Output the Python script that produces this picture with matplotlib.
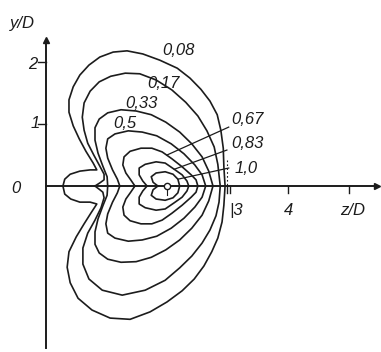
import matplotlib
matplotlib.use('Agg')
import matplotlib.pyplot as plt

# -------------------------------------------------------------------------------------------------------------------- #
# Data (z/D and y/D units)
# -------------------------------------------------------------------------------------------------------------------- #

levels = ['0,08', '0,17', '0,33', '0,5', '0,67', '0,83', '1,0']

# 0.08 - outer contour with the small balloon on the axis
z_008 = [0.28, 0.31, 0.40, 0.56, 0.73, 0.84, 0.78, 0.66, 0.55, 0.45, 0.38, 0.38, 0.45, 0.56, 0.71,
         0.89, 1.11, 1.34, 1.60, 1.88, 2.17, 2.38, 2.56, 2.71, 2.83, 2.89, 2.93, 2.94, 2.96,
         2.94, 2.91, 2.84, 2.74, 2.61, 2.45, 2.25, 2.00, 1.72, 1.39, 1.06, 0.76, 0.53, 0.40, 0.35,
         0.38, 0.50, 0.63, 0.74, 0.84, 0.73, 0.56, 0.41, 0.31, 0.28]
y_008 = [0.00, 0.11, 0.19, 0.24, 0.26, 0.26, 0.37, 0.56, 0.76, 0.97, 1.19, 1.39, 1.60, 1.79, 1.95,
         2.08, 2.16, 2.18, 2.13, 2.03, 1.90, 1.74, 1.56, 1.37, 1.15, 0.90, 0.61, 0.31, 0.00,
         -0.31, -0.58, -0.84, -1.06, -1.29, -1.50, -1.69, -1.87, -2.03, -2.15, -2.13, -2.00, -1.81, -1.56, -1.31,
         -1.06, -0.82, -0.61, -0.44, -0.29, -0.26, -0.26, -0.21, -0.13, 0.00]

# 0.17 - with the narrow tongue on the axis
z_017 = [0.81, 0.89, 0.96, 0.96, 0.89, 0.79, 0.69, 0.63, 0.60, 0.63, 0.73, 0.88, 1.07, 1.31, 1.55,
         1.82, 2.08, 2.31, 2.51, 2.66, 2.78, 2.84, 2.88,
         2.86, 2.81, 2.71, 2.58, 2.41, 2.21, 1.97, 1.64, 1.26, 0.93, 0.71, 0.61, 0.61, 0.69, 0.81,
         0.91, 0.96, 0.94, 0.89, 0.81]
y_017 = [0.00, 0.05, 0.10, 0.19, 0.32, 0.50, 0.69, 0.90, 1.11, 1.34, 1.53, 1.68, 1.77, 1.82, 1.81,
         1.71, 1.55, 1.35, 1.13, 0.89, 0.63, 0.35, 0.00,
         -0.26, -0.48, -0.71, -0.92, -1.13, -1.32, -1.52, -1.68, -1.76, -1.68, -1.50, -1.26, -1.00, -0.76, -0.55,
         -0.35, -0.19, -0.10, -0.06, 0.00]

z_033 = [1.02, 1.01, 0.94, 0.86, 0.81, 0.81, 0.88, 1.02, 1.24, 1.49, 1.74, 1.98, 2.21, 2.41, 2.58, 2.69, 2.76,
         2.69, 2.58, 2.41, 2.21, 1.98, 1.74, 1.49, 1.24, 1.02, 0.88, 0.81, 0.81, 0.86, 0.94, 1.01, 1.02]
y_033 = [0.00, 0.15, 0.32, 0.53, 0.74, 0.94, 1.08, 1.18, 1.23, 1.21, 1.15, 1.03, 0.87, 0.68, 0.47, 0.24, 0.00,
         -0.24, -0.47, -0.68, -0.87, -1.03, -1.15, -1.22, -1.23, -1.18, -1.08, -0.94, -0.74, -0.53, -0.32, -0.15, 0.00]

z_050 = [1.22, 1.18, 1.10, 1.02, 0.99, 1.02, 1.14, 1.36, 1.59, 1.83, 2.07, 2.28, 2.46, 2.58, 2.64,
         2.58, 2.46, 2.28, 2.07, 1.83, 1.59, 1.36, 1.14, 1.02, 0.99, 1.02, 1.10, 1.18, 1.22]
y_050 = [0.00, 0.11, 0.26, 0.45, 0.61, 0.76, 0.84, 0.89, 0.87, 0.81, 0.68, 0.52, 0.34, 0.18, 0.00,
         -0.18, -0.34, -0.52, -0.68, -0.81, -0.87, -0.89, -0.84, -0.76, -0.61, -0.45, -0.26, -0.11, 0.00]

z_067 = [1.47, 1.40, 1.32, 1.27, 1.29, 1.39, 1.57, 1.75, 1.92, 2.08, 2.25, 2.40, 2.48, 2.51,
         2.48, 2.40, 2.25, 2.08, 1.92, 1.75, 1.57, 1.39, 1.29, 1.27, 1.32, 1.40, 1.47]
y_067 = [0.00, 0.10, 0.21, 0.34, 0.47, 0.56, 0.61, 0.61, 0.55, 0.44, 0.31, 0.18, 0.10, 0.00,
         -0.10, -0.18, -0.31, -0.44, -0.55, -0.61, -0.61, -0.56, -0.47, -0.34, -0.21, -0.10, 0.00]

z_083 = [1.67, 1.60, 1.54, 1.54, 1.64, 1.82, 1.97, 2.12, 2.25, 2.33, 2.36,
         2.33, 2.25, 2.12, 1.97, 1.82, 1.64, 1.54, 1.54, 1.60, 1.67]
y_083 = [0.00, 0.08, 0.18, 0.29, 0.35, 0.39, 0.37, 0.27, 0.18, 0.08, 0.00,
         -0.08, -0.18, -0.27, -0.37, -0.39, -0.35, -0.29, -0.18, -0.08, 0.00]

z_100 = [1.85, 1.77, 1.74, 1.82, 1.97, 2.10, 2.18, 2.21, 2.18, 2.10, 1.97, 1.82, 1.74, 1.77, 1.85]
y_100 = [0.00, 0.06, 0.15, 0.21, 0.23, 0.19, 0.11, 0.00, -0.11, -0.19, -0.23, -0.21, -0.15, -0.06, 0.00]

# source position
source_z, source_y = 2.0, 0.0

# axis ticks
z_ticks = [3, 4, 5]
y_ticks = [1, 2]

# -------------------------------------------------------------------------------------------------------------------- #
# Plot
# -------------------------------------------------------------------------------------------------------------------- #

ink = '#1c1c1c'
plt.rcParams['font.family'] = ['Liberation Sans', 'DejaVu Sans']
txt = dict(color=ink, fontsize=12, fontstyle='italic')

fig = plt.figure(figsize=(3.81, 3.52), dpi=100)
ax = fig.add_axes([0, 0, 1, 1])
ax.set_xlim(-0.76, 5.537)
ax.set_ylim(-2.677, 3.0)
ax.axis('off')

contours = [(z_008, y_008), (z_017, y_017), (z_033, y_033), (z_050, y_050),
            (z_067, y_067), (z_083, y_083), (z_100, y_100)]
for zc, yc in contours:
    ax.plot(zc, yc, color=ink, lw=1.2, solid_joinstyle='round')

# axes
ax.plot([0, 0], [-2.62, 2.3], color=ink, lw=1.4)
ax.plot([0], [2.36], marker='^', ms=5, color=ink)
ax.plot([0, 5.45], [0, 0], color=ink, lw=1.4)
ax.plot([5.47], [0], marker='>', ms=4, color=ink)

for t in z_ticks:
    ax.plot([t, t], [0, -0.11], color=ink, lw=1.0)
ax.plot([3.04, 3.04], [0, -0.11], color=ink, lw=1.0)
ax.plot([2.99, 2.99], [0.02, 0.45], color=ink, lw=0.8, ls=(0, (1.5, 2)))
for t in y_ticks:
    ax.plot([-0.13, 0], [t, t], color=ink, lw=1.0)

# tick labels
ax.text(3.03, -0.46, '|3', **txt)
ax.text(3.93, -0.46, '4', **txt)
ax.text(4.86, -0.47, 'z/D', **txt)
ax.text(-0.30, 1.89, '2', **txt)
ax.text(-0.26, 0.93, '1', **txt)
ax.text(-0.58, -0.11, '0', **txt)
ax.text(-0.60, 2.55, 'y/D', **txt)

# source
ax.plot([source_z], [source_y], marker='o', ms=4.5, mfc='white', mec=ink, mew=1.0)
ax.plot([source_z, source_z], [-0.06, -0.14], color=ink, lw=0.8)

# contour labels
ax.text(1.93, 2.11, levels[0], **txt)
ax.text(1.67, 1.58, levels[1], **txt)
ax.text(1.31, 1.26, levels[2], **txt)
ax.text(1.12, 0.94, levels[3], **txt)
ax.text(3.07, 1.00, levels[4], **txt)
ax.text(3.07, 0.61, levels[5], **txt)
ax.text(3.11, 0.21, levels[6], **txt)

# leader lines
ax.plot([3.02, 2.00], [0.95, 0.50], color=ink, lw=0.9)
ax.plot([2.99, 2.12], [0.58, 0.27], color=ink, lw=0.9)
ax.plot([3.02, 2.18], [0.29, 0.11], color=ink, lw=0.9)

fig.savefig('out.png', dpi=100, facecolor='white')
